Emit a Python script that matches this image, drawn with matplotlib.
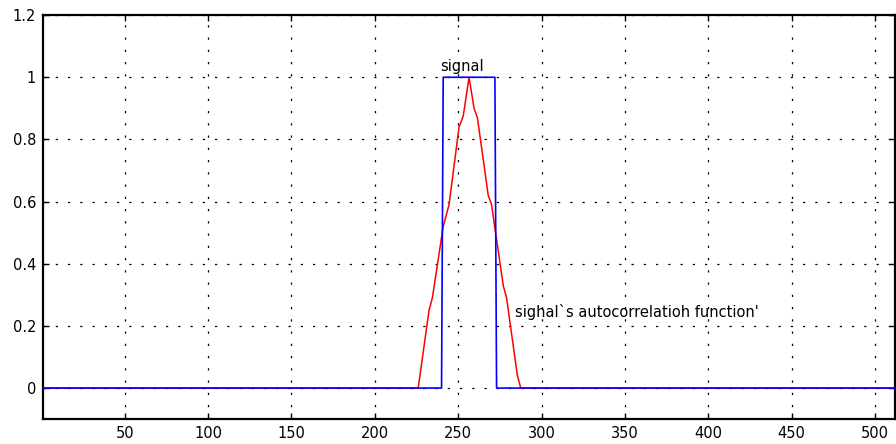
import matplotlib
matplotlib.use("Agg")
import matplotlib.pyplot as plt
from matplotlib.ticker import FormatStrFormatter

# rectangular test signal (sample index, amplitude)
signal_x = [1, 240, 241, 272, 273, 512]
signal_y = [0, 0, 1, 1, 0, 0]

# normalised autocorrelation
acf_x = [1, 226, 232.5, 234.5, 241, 244.5, 250.5, 253, 256.5, 259.5, 261.5,
         268, 270, 277, 279, 285.5, 287.5, 512]
acf_y = [0, 0, 0.25, 0.29, 0.52, 0.59, 0.84, 0.875, 1.0, 0.90, 0.87,
         0.62, 0.59, 0.33, 0.29, 0.04, 0, 0]

x_ticks = [50, 100, 150, 200, 250, 300, 350, 400, 450, 500]
y_ticks = [0, 0.2, 0.4, 0.6, 0.8, 1.0, 1.2]

plt.rcParams["font.family"] = ["DejaVu Sans"]

fig = plt.figure(figsize=(8.96, 4.44), dpi=100)
ax = fig.add_axes([0.048, 0.056, 0.951, 0.910])

ax.plot(acf_x, acf_y, color="#ff0000", linewidth=1.1, zorder=3)
ax.plot(signal_x, signal_y, color="#0000ff", linewidth=1.2, zorder=4)

ax.text(239, 1.02, "signal", fontsize=10.5, ha="left", va="baseline")
ax.text(284, 0.23, "sighal`s autocorrelatioh function'", fontsize=10.5,
        ha="left", va="baseline")

ax.set_xlim(1, 512)
ax.set_ylim(-0.1, 1.2)
ax.set_xticks(x_ticks)
ax.set_yticks(y_ticks)
ax.yaxis.set_major_formatter(FormatStrFormatter("%g"))
ax.tick_params(direction="in", length=4, width=1, labelsize=10.5,
               top=True, right=True, pad=5)

ax.grid(True, color="black", linewidth=0.9, linestyle=(0, (1.8, 8)))
ax.set_axisbelow(True)
for spine in ax.spines.values():
    spine.set_linewidth(1.6)

fig.savefig("out.png", dpi=100, facecolor="white")
